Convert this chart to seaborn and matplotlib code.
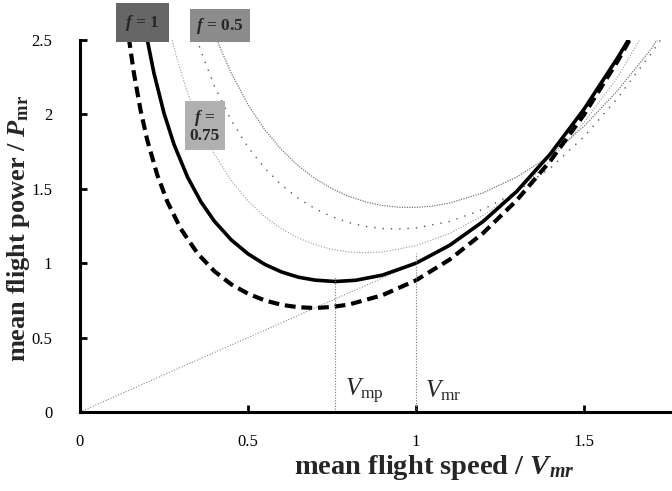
import matplotlib
matplotlib.use("Agg")
import matplotlib.pyplot as plt
import seaborn as sns
import pandas as pd

# ---- data ----
solid_v = [0.20, 0.22, 0.25, 0.28, 0.32, 0.36, 0.40, 0.45, 0.50, 0.55, 0.60, 0.65, 0.70,
           0.76, 0.82, 0.90, 1.00, 1.10, 1.20, 1.30, 1.40, 1.50, 1.60, 1.64]
solid_p = [2.504, 2.278, 2.008, 1.797, 1.579, 1.412, 1.282, 1.157, 1.063, 0.992, 0.941, 0.906,
           0.886, 0.877, 0.885, 0.920, 1.000, 1.120, 1.281, 1.483, 1.735, 2.035, 2.380, 2.530]

dash_v = [0.145, 0.16, 0.18, 0.20, 0.23, 0.26, 0.30, 0.35, 0.40, 0.45, 0.50, 0.55, 0.60, 0.65,
          0.70, 0.75, 0.80, 0.90, 1.00, 1.10, 1.20, 1.30, 1.40, 1.50, 1.60, 1.65]
dash_p = [2.519, 2.283, 2.031, 1.829, 1.593, 1.413, 1.231, 1.065, 0.946, 0.858, 0.795, 0.750,
          0.720, 0.704, 0.699, 0.706, 0.722, 0.785, 0.885, 1.024, 1.203, 1.423, 1.688, 1.998,
          2.358, 2.557]

f05_v = [0.40, 0.42, 0.45, 0.50, 0.55, 0.60, 0.65, 0.70, 0.75, 0.80, 0.85, 0.90, 0.95, 1.00,
         1.05, 1.10, 1.20, 1.30, 1.40, 1.50, 1.60, 1.70, 1.72]
f05_p = [2.548, 2.432, 2.278, 2.066, 1.897, 1.762, 1.654, 1.568, 1.501, 1.449, 1.412, 1.388,
         1.376, 1.375, 1.384, 1.404, 1.473, 1.579, 1.723, 1.920, 2.160, 2.440, 2.510]

f075_v = [0.34, 0.36, 0.40, 0.45, 0.50, 0.55, 0.60, 0.65, 0.70, 0.75, 0.80, 0.85, 0.90, 0.95,
          1.00, 1.10, 1.20, 1.30, 1.40, 1.50, 1.60, 1.70, 1.74]
f075_p = [2.565, 2.425, 2.191, 1.960, 1.780, 1.638, 1.525, 1.435, 1.366, 1.312, 1.273, 1.247,
          1.233, 1.230, 1.237, 1.280, 1.362, 1.480, 1.640, 1.850, 2.110, 2.410, 2.540]

f1_v = [0.27, 0.29, 0.32, 0.36, 0.40, 0.45, 0.50, 0.55, 0.60, 0.65, 0.70, 0.75, 0.80, 0.85,
        0.90, 1.00, 1.10, 1.20, 1.30, 1.40, 1.50, 1.60, 1.665, 1.70]
f1_p = [2.535, 2.362, 2.145, 1.915, 1.733, 1.555, 1.418, 1.312, 1.231, 1.169, 1.124, 1.093,
        1.076, 1.070, 1.075, 1.118, 1.200, 1.321, 1.481, 1.690, 1.945, 2.250, 2.500, 2.600]

line_v = [0.0, 1.05]
line_p = [0.0, 1.05]

v_mp, v_mr = 0.76, 1.0
x_ticks = [0, 0.5, 1, 1.5]
x_tick_labels = ["0", "0.5", "1", "1.5"]
y_ticks = [0, 0.5, 1, 1.5, 2, 2.5]
y_tick_labels = ["0", "0.5", "1", "1.5", "2", "2.5"]

# ---- style ----
sns.set_theme(style="ticks")
plt.rcParams['font.family'] = ['Liberation Serif', 'DejaVu Serif']
plt.rcParams['mathtext.fontset'] = 'custom'
plt.rcParams['mathtext.rm'] = 'Liberation Serif'
plt.rcParams['mathtext.it'] = 'Liberation Serif:italic'
plt.rcParams['mathtext.bf'] = 'Liberation Serif:bold'
plt.rcParams['mathtext.sf'] = 'Liberation Serif:bold:italic'

fig = plt.figure(figsize=(6.72, 4.91), dpi=100)
ax = fig.add_axes([80 / 672, 79 / 491, 592 / 672, 372 / 491])

def draw(v, p, **kw):
    df = pd.DataFrame({"v": v, "p": p})
    sns.lineplot(data=df, x="v", y="p", sort=False, estimator=None, ax=ax, **kw)

draw(line_v, line_p, color="#8a8a8a", lw=0.8, linestyle=(0, (1, 1.5)))
draw(f05_v, f05_p, color="#777777", lw=0.9, linestyle=(0, (1, 1)))
draw(f075_v, f075_p, color="#555555", lw=1.0, linestyle=(0, (1, 5)))
draw(f1_v, f1_p, color="#999999", lw=0.8, linestyle=(0, (1, 1.5)))
draw(dash_v, dash_p, color="black", lw=3.0, linestyle=(0, (2.6, 1.4)))
draw(solid_v, solid_p, color="black", lw=2.6)

ax.plot([v_mp, v_mp], [0, 0.91], color="#777777", lw=0.8, linestyle=(0, (1, 1.5)))
ax.plot([v_mr, v_mr], [0, 1.07], color="#777777", lw=0.8, linestyle=(0, (1, 1.5)))

ax.text(0.789, 0.14, r"$V_{\mathrm{mp}}$", fontsize=18, va="center", ha="left")
ax.text(1.027, 0.14, r"$V_{\mathrm{mr}}$", fontsize=18, va="center", ha="left")

ax.text(0.185, 2.617, r"$\mathsf{f}$ = 1", fontsize=12.5, fontweight="bold", ha="center",
        va="center", clip_on=False,
        bbox=dict(boxstyle="square,pad=0.55", fc="#666666", ec="none"))
ax.text(0.417, 2.597, r"$\mathsf{f}$ = 0.5", fontsize=12.5, fontweight="bold", ha="center",
        va="center", clip_on=False,
        bbox=dict(boxstyle="square,pad=0.35", fc="#8c8c8c", ec="none"))
ax.text(0.372, 1.92, "$\\mathsf{f}$ =\n0.75", fontsize=12.5, fontweight="bold", ha="center",
        va="center", linespacing=1.0,
        bbox=dict(boxstyle="square,pad=0.3", fc="#b0b0b0", ec="none"))

ax.set_xlim(0, 592 / 336)
ax.set_ylim(0, 2.5)
ax.set_xticks(x_ticks)
ax.set_xticklabels(x_tick_labels)
ax.set_yticks(y_ticks)
ax.set_yticklabels(y_tick_labels)
ax.tick_params(direction="in", length=5, width=2, labelsize=12, colors="black")
ax.tick_params(axis="x", pad=16)
ax.tick_params(axis="y", pad=20)
for s in ["top", "right"]:
    ax.spines[s].set_visible(False)
for s in ["left", "bottom"]:
    ax.spines[s].set_linewidth(2.2)
    ax.spines[s].set_color("black")

ax.set_xlabel(r"mean flight speed / $\mathsf{V}_{\mathsf{mr}}$", fontsize=20.5,
              fontweight="bold")
ax.set_ylabel(r"mean flight power / $\mathsf{P}_{\mathbf{mr}}$", fontsize=19,
              fontweight="bold")
ax.xaxis.set_label_coords((434 - 80) / 592, -(468 - 412) / 372)
ax.yaxis.set_label_coords(-(80 - 19) / 592, (412 - 228) / 372)
ax.xaxis.label.set_va("center")
ax.yaxis.label.set_va("center")
ax.set_facecolor("white")
fig.patch.set_facecolor("white")

fig.savefig("out.png", dpi=100)
